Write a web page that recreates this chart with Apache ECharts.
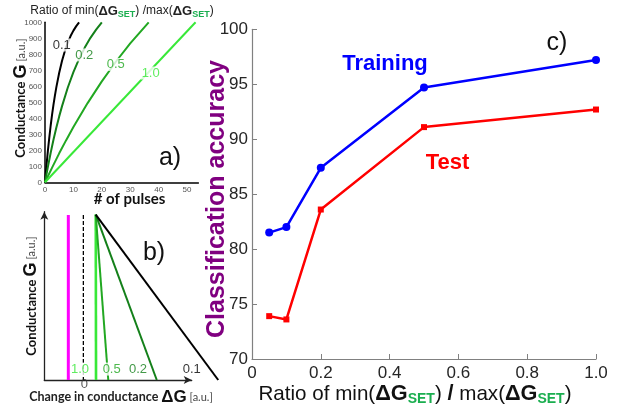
<!DOCTYPE html>
<html><head><meta charset="utf-8">
<script src="https://cdn.jsdelivr.net/npm/echarts@6/dist/echarts.min.js"></script>
<style>html,body{margin:0;padding:0;background:#fff}#c{width:621px;height:413px}</style>
</head><body><div id="c"></div>
<script>
// ---------- Panel c: classification accuracy ----------
const ratios = [0.05, 0.1, 0.2, 0.5, 1.0];
const trainingAcc = [81.5, 82.0, 87.4, 94.7, 97.2];
const testAcc = [73.9, 73.6, 83.6, 91.1, 92.7];
const cYRange = [70, 100];
const cXRange = [0, 1];

// ---------- Panel a: conductance vs # of pulses ----------
const curveRatio01 = [[0,0],[0.5,102],[1,195],[1.5,278],[2,355],[2.5,424],[3,487],[3.5,543],[4,595],[5,685],[6,760],[7,821],[8,872],[9,914],[10,948],[11,976],[12,1000]];
const curveRatio02 = [[0,0],[1,95],[2,185],[3,267],[4,343],[5,412],[6,476],[8,591],[10,689],[12,771],[14,842],[16,903],[18,954],[20,1000]];
const curveRatio05 = [[0,0],[2.5,92],[5,181],[7.5,265],[10,346],[15,495],[20,631],[25,755],[30,868],[36.5,1000]];
const curveRatio10 = [[0,0],[53,1000]];
const aLabelNames = ['0.1', '0.2', '0.5', '1.0'];
const aLabelPos = [[5.9, 858], [13.8, 796], [24.9, 737], [37.2, 683]];

// ---------- Panel b: schematic G vs dG ----------
const bTop = [34.9, 98.3];
const bLineNames = ['1.0', '0.5', '0.2', '0.1'];
const bBottomX = [35.1, 43.4, 76.3, 118];
const bMagentaX = 16.3;
const bDashedX = 26.5;
const bVertTop = 98;
const bLabelPos = [[24.2, 6.5], [45.7, 6.5], [63.6, 6.5], [100, 6.5]];
const bZeroPos = [27.1, -2.6];

const colors = {'0.1': '#000000', '0.2': '#14801a', '0.5': '#22a822', '1.0': '#38e838'};
const setGreen = '#1aae4f';

const chart = echarts.init(document.getElementById('c'), null, {renderer: 'canvas'});

const series = [];
// panel a curves
[[curveRatio01,'0.1'],[curveRatio02,'0.2'],[curveRatio05,'0.5'],[curveRatio10,'1.0']].forEach(([d,n]) => {
  series.push({type:'line', xAxisIndex:0, yAxisIndex:0, data:d, showSymbol:false, smooth:false,
    lineStyle:{color:colors[n], width:2}, z:2, silent:true});
});
series.push({type:'scatter', xAxisIndex:0, yAxisIndex:0, symbolSize:0, z:10, silent:true,
  data: aLabelNames.map((n,i)=>({value:aLabelPos[i], name:n,
    label:{show:true, position:'inside', formatter:n, color:colors[n], fontSize:13, fontFamily:'Liberation Sans',
      backgroundColor:'#fff', padding:[0,1,0,1]}}))});

// panel b (drawn on hidden wide grid 3 sharing the same scale as the visible axes of grid 1)
series.push({type:'line', xAxisIndex:3, yAxisIndex:3, data:[[bMagentaX,bVertTop],[bMagentaX,0]], showSymbol:false,
  lineStyle:{color:'#ff00ff', width:3}, silent:true});
series.push({type:'line', xAxisIndex:3, yAxisIndex:3, data:[[bDashedX,bVertTop],[bDashedX,0]], showSymbol:false,
  lineStyle:{color:'#000', width:1.3, type:[4,2]}, silent:true});
bLineNames.forEach((n,i)=>{
  series.push({type:'line', xAxisIndex:3, yAxisIndex:3, data:[bTop,[bBottomX[i],0]], showSymbol:false,
    lineStyle:{color:colors[n], width: n==='1.0'?2.6:2}, silent:true});
});
series.push({type:'scatter', xAxisIndex:3, yAxisIndex:3, symbolSize:0, z:10, clip:false, silent:true,
  data: bLineNames.map((n,i)=>({value:bLabelPos[i], name:n,
    label:{show:true, position:'inside', formatter:n, color:colors[n], fontSize:13, fontFamily:'Liberation Sans',
      backgroundColor:'#fff', padding:[0,1,0,1]}})).concat([{value:bZeroPos, name:'0',
    label:{show:true, position:'inside', formatter:'0', color:'#333', fontSize:13, fontFamily:'Liberation Sans'}}])});

// panel c
series.push({type:'line', xAxisIndex:2, yAxisIndex:2, name:'Training', data:ratios.map((x,i)=>[x,trainingAcc[i]]),
  symbol:'circle', symbolSize:8, lineStyle:{color:'#0000ff', width:2.5}, itemStyle:{color:'#0000ff'}, silent:true});
series.push({type:'line', xAxisIndex:2, yAxisIndex:2, name:'Test', data:ratios.map((x,i)=>[x,testAcc[i]]),
  symbol:'rect', symbolSize:6, lineStyle:{color:'#ff0000', width:2.5}, itemStyle:{color:'#ff0000'}, silent:true});

const gridTextC = '#262626';
const bScale = 147.4 / 100; // px per unit of panel b
const option = {
  animation:false,
  backgroundColor:'#fff',
  grid:[
    {left:45, top:22.3, width:153.4, height:160},
    {left:44.3, top:211.7, width:147.4, height:168.3},
    {left:252, top:29.3, width:344, height:329.7},
    {left:44.3, top:211.7, width:130 * bScale, height:168.3}
  ],
  xAxis:[
    {gridIndex:0, type:'value', min:0, max:54, interval:10,
      axisLine:{show:true, lineStyle:{color:'#000', width:1.5}}, axisTick:{show:false}, splitLine:{show:false},
      axisLabel:{fontSize:8, color:'#555', margin:3, fontFamily:'Liberation Sans', formatter:v=> (v%10===0? String(v):'')}},
    {gridIndex:1, type:'value', min:0, max:100,
      axisLine:{show:true, onZero:false, lineStyle:{color:'#222', width:1.3}, symbol:['none','arrow'], symbolSize:[6,8]},
      axisTick:{show:false}, axisLabel:{show:false}, splitLine:{show:false}},
    {gridIndex:2, type:'value', min:cXRange[0], max:cXRange[1], interval:0.2,
      axisLine:{show:true, lineStyle:{color:'#808080', width:1.2}}, axisTick:{show:true, inside:true, length:5, lineStyle:{color:'#808080'}},
      splitLine:{show:false},
      axisLabel:{fontSize:17, color:gridTextC, margin:6, fontFamily:'Liberation Sans', formatter:v=> v===0?'0':v.toFixed(1)}},
    {gridIndex:3, type:'value', min:0, max:130, show:false}
  ],
  yAxis:[
    {gridIndex:0, type:'value', min:0, max:1000, interval:100,
      axisLine:{show:true, lineStyle:{color:'#000', width:1.5}}, axisTick:{show:false}, splitLine:{show:false},
      axisLabel:{fontSize:8, color:'#555', margin:3, fontFamily:'Liberation Sans', formatter:v=>String(v)}},
    {gridIndex:1, type:'value', min:0, max:100,
      axisLine:{show:true, onZero:false, lineStyle:{color:'#222', width:1.3}, symbol:['none','arrow'], symbolSize:[6,8]},
      axisTick:{show:false}, axisLabel:{show:false}, splitLine:{show:false}},
    {gridIndex:2, type:'value', min:cYRange[0], max:cYRange[1], interval:5,
      axisLine:{show:true, lineStyle:{color:'#808080', width:1.2}}, axisTick:{show:true, inside:true, length:5, lineStyle:{color:'#808080'}},
      splitLine:{show:false},
      axisLabel:{fontSize:17, color:gridTextC, margin:4, fontFamily:'Liberation Sans'}},
    {gridIndex:3, type:'value', min:0, max:100, show:false}
  ],
  series: series,
  graphic: [
    {type:'text', x:122, y:11, style:{text:'{n|Ratio of min(}{b|ΔG}{s|SET}{n|) /max(}{b|ΔG}{s|SET}{n|)}',
      align:'center', verticalAlign:'middle', textAlign:'center', textVerticalAlign:'middle',
      rich:{n:{fontSize:12, fontFamily:'Liberation Sans', fill:'#222'},
            b:{fontSize:13, fontWeight:'bold', fontFamily:'Liberation Sans', fill:'#222'},
            s:{fontSize:9, fontWeight:'bold', fontFamily:'Liberation Sans', fill:setGreen, padding:[7,0,0,0]}}}},
    {type:'text', x:21, y:98, rotation:Math.PI/2, style:{text:'{n|Conductance }{g|G}{u| [a.u.]}',
      align:'center', verticalAlign:'middle', textAlign:'center', textVerticalAlign:'middle',
      rich:{n:{fontSize:13, fontWeight:'bold', fontFamily:'Lato', fill:'#111'},
            g:{fontSize:18, fontWeight:'bold', fontFamily:'Liberation Sans', fill:'#111'},
            u:{fontSize:11, fontFamily:'Lato', fill:'#444'}}}},
    {type:'text', x:129.5, y:199, style:{text:'# of pulses', font:'bold 15px Lato', fill:'#111',
      align:'center', verticalAlign:'middle', textAlign:'center', textVerticalAlign:'middle'}},
    {type:'text', x:170, y:158, style:{text:'a)', font:'25px "Liberation Sans"', fill:'#111',
      align:'center', verticalAlign:'middle', textAlign:'center', textVerticalAlign:'middle'}},
    {type:'text', x:31.5, y:296, rotation:Math.PI/2, style:{text:'{n|Conductance }{g|G}{u| [a.u.]}',
      align:'center', verticalAlign:'middle', textAlign:'center', textVerticalAlign:'middle',
      rich:{n:{fontSize:13, fontWeight:'bold', fontFamily:'Lato', fill:'#111'},
            g:{fontSize:18, fontWeight:'bold', fontFamily:'Liberation Sans', fill:'#111'},
            u:{fontSize:11, fontFamily:'Lato', fill:'#444'}}}},
    {type:'text', x:121, y:397, style:{text:'{n|Change in conductance }{g|ΔG}{u| [a.u.]}',
      align:'center', verticalAlign:'middle', textAlign:'center', textVerticalAlign:'middle',
      rich:{n:{fontSize:12.5, fontWeight:'bold', fontFamily:'Lato', fill:'#222'},
            g:{fontSize:17, fontWeight:'bold', fontFamily:'Liberation Sans', fill:'#111'},
            u:{fontSize:11, fontFamily:'Lato', fill:'#444'}}}},
    {type:'text', x:154, y:253, style:{text:'b)', font:'25px "Liberation Sans"', fill:'#111',
      align:'center', verticalAlign:'middle', textAlign:'center', textVerticalAlign:'middle'}},
    {type:'text', x:557, y:43, style:{text:'c)', font:'25px "Liberation Sans"', fill:'#111',
      align:'center', verticalAlign:'middle', textAlign:'center', textVerticalAlign:'middle'}},
    {type:'text', x:385, y:64, style:{text:'Training', font:'bold 22px "Liberation Sans"', fill:'#0000ff',
      align:'center', verticalAlign:'middle', textAlign:'center', textVerticalAlign:'middle'}},
    {type:'text', x:447.5, y:163, style:{text:'Test', font:'bold 22px "Liberation Sans"', fill:'#ff0000',
      align:'center', verticalAlign:'middle', textAlign:'center', textVerticalAlign:'middle'}},
    {type:'text', x:217, y:199, rotation:Math.PI/2, style:{text:'Classification accuracy', font:'bold 25px "Liberation Sans"', fill:'#800080',
      align:'center', verticalAlign:'middle', textAlign:'center', textVerticalAlign:'middle'}},
    {type:'text', x:415, y:394, style:{text:'{n|Ratio of min(}{b|ΔG}{s|SET}{n|) }{b|/}{n| max(}{b|ΔG}{s|SET}{n|)}',
      align:'center', verticalAlign:'middle', textAlign:'center', textVerticalAlign:'middle',
      rich:{n:{fontSize:20.6, fontFamily:'Liberation Sans', fill:'#111'},
            b:{fontSize:21.7, fontWeight:'bold', fontFamily:'Liberation Sans', fill:'#111'},
            s:{fontSize:14, fontWeight:'bold', fontFamily:'Liberation Sans', fill:setGreen, padding:[11,0,0,0]}}}}
  ]
};
chart.setOption(option);
</script></body></html>
